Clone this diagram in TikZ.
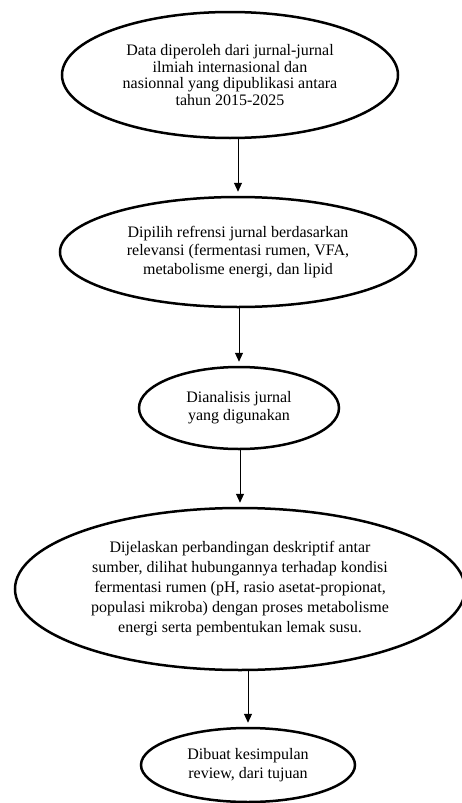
\documentclass[tikz,border=0pt]{standalone}
\usepackage{fontspec}
\setmainfont{Liberation Serif}
\usetikzlibrary{shapes.geometric,arrows.meta}
\tikzset{
  oval/.style={draw=black, line width=2.5pt, ellipse, inner sep=0pt, align=center, font=\fontsize{16}{18.3}\selectfont},
  arr/.style={draw=black, line width=0.9pt, -{Triangle[length=9pt,width=8pt]}, shorten >=4pt}
}
\begin{document}
\begin{tikzpicture}[x=1pt,y=-1pt]
\useasboundingbox (0,0) rectangle (462,803);
\node[oval, minimum width=336pt, minimum height=126pt, font=\fontsize{16}{16.7}\selectfont] (e1) at (230,75)
  {Data diperoleh dari jurnal-jurnal\\ilmiah internasional dan\\nasionnal yang dipublikasi antara\\tahun 2015-2025};
\node[oval, minimum width=356pt, minimum height=110pt] (e2) at (238,252)
  {Dipilih refrensi jurnal berdasarkan\\relevansi (fermentasi rumen, VFA,\\metabolisme energi, dan lipid};
\node[oval, minimum width=200pt, minimum height=82pt] (e3) at (239,408)
  {Dianalisis jurnal\\yang digunakan};
\node[oval, minimum width=450pt, minimum height=162pt, font=\fontsize{16}{20}\selectfont] (e4) at (240,589)
  {Dijelaskan perbandingan deskriptif antar\\sumber, dilihat hubungannya terhadap kondisi\\fermentasi rumen (pH, rasio asetat-propionat,\\populasi mikroba) dengan proses metabolisme\\energi serta pembentukan lemak susu.};
\node[oval, minimum width=214pt, minimum height=74pt, font=\fontsize{16}{19}\selectfont] (e5) at (248,765)
  {Dibuat kesimpulan\\review, dari tujuan};
\draw[arr] (e1.south -| e2.north) -- (e2.north);
\draw[arr] (e2.south -| e3.north) -- (e3.north);
\draw[arr] (e3.south -| e4.north) -- (e4.north);
\draw[arr] (e4.south -| e5.north) -- (e5.north);
\end{tikzpicture}
\end{document}
